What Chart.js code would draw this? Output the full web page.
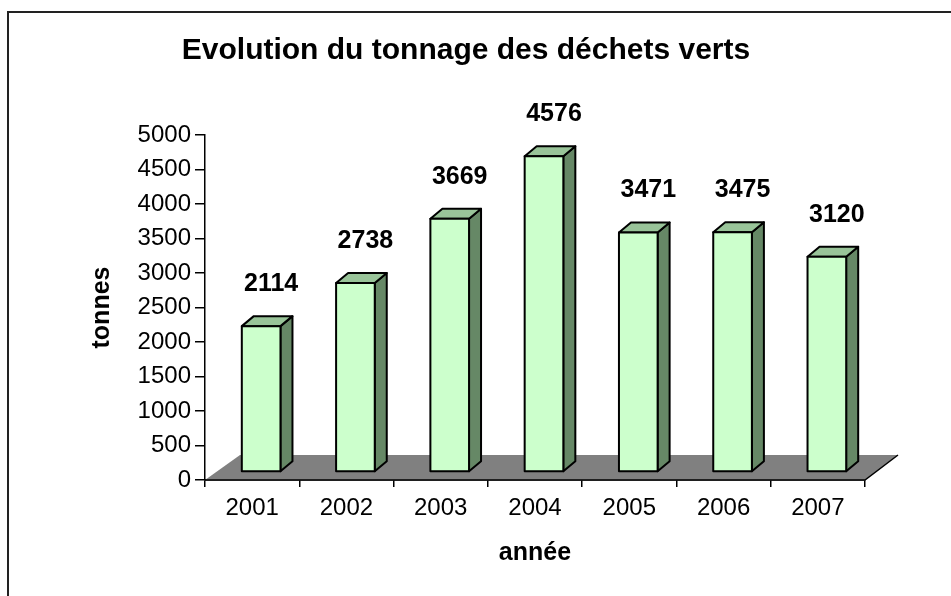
<!DOCTYPE html>
<html lang="fr">
<head>
<meta charset="utf-8">
<title>Evolution du tonnage des déchets verts</title>
<script src="https://cdn.jsdelivr.net/npm/chart.js@4.4.1/dist/chart.umd.min.js"></script>
<style>
  html, body { margin: 0; padding: 0; background: #fff; }
  canvas { display: block; }
</style>
</head>
<body>
<canvas id="chart" width="951" height="596"></canvas>
<script>
// data
const years = ["2001", "2002", "2003", "2004", "2005", "2006", "2007"];
const tonnes = [2114, 2738, 3669, 4576, 3471, 3475, 3120];
const yTicks = [0, 500, 1000, 1500, 2000, 2500, 3000, 3500, 4000, 4500, 5000];
const chartTitle = "Evolution du tonnage des déchets verts";

const FONT = "'Liberation Sans', Arial, sans-serif";

// 3d look: front face shifted from the axis, then the depth of the bar
const FRONT_DX = 9, FRONT_DY = -8;
const DEPTH_DX = 12, DEPTH_DY = -10;
const FLOOR_DX = 33, FLOOR_DY = -25;

const framePlugin = {
  id: "frame",
  beforeDraw(chart) {
    const ctx = chart.ctx;
    ctx.save();
    ctx.strokeStyle = "#222";
    ctx.lineWidth = 2;
    ctx.beginPath();
    ctx.moveTo(8, 600);
    ctx.lineTo(8, 12);
    ctx.lineTo(960, 12);
    ctx.stroke();
    // title, centred over the whole picture like the excel one
    ctx.fillStyle = "#000";
    ctx.font = "bold 30px " + FONT;
    ctx.textAlign = "center";
    ctx.textBaseline = "middle";
    ctx.fillText(chartTitle, 466, 51);
    ctx.restore();
  }
};

const bars3d = {
  id: "bars3d",
  beforeDatasetsDraw(chart) {
    const { ctx, chartArea } = chart;
    const l = chartArea.left, r = chartArea.right, b = chartArea.bottom;
    ctx.save();
    ctx.fillStyle = "#808080";
    ctx.beginPath();
    ctx.moveTo(l, b);
    ctx.lineTo(l + FLOOR_DX + 2, b + FLOOR_DY);
    ctx.lineTo(r + FLOOR_DX, b + FLOOR_DY);
    ctx.lineTo(r, b);
    ctx.closePath();
    ctx.fill();
    ctx.strokeStyle = "#000";
    ctx.lineWidth = 1.5;
    ctx.beginPath();
    ctx.moveTo(l, b);
    ctx.lineTo(r, b);
    ctx.lineTo(r + FLOOR_DX, b + FLOOR_DY);
    ctx.stroke();
    ctx.restore();
  },
  afterDatasetsDraw(chart) {
    const ctx = chart.ctx;
    const meta = chart.getDatasetMeta(0);
    ctx.save();
    ctx.lineWidth = 2;
    ctx.lineJoin = "round";
    ctx.strokeStyle = "#000";
    meta.data.forEach((el, i) => {
      const w = el.width;
      const left = el.x - w / 2 + FRONT_DX;
      const right = left + w;
      const top = el.y + FRONT_DY;
      const bottom = el.base + FRONT_DY;

      // side
      ctx.fillStyle = "#668866";
      ctx.beginPath();
      ctx.moveTo(right, bottom);
      ctx.lineTo(right + DEPTH_DX, bottom + DEPTH_DY);
      ctx.lineTo(right + DEPTH_DX, top + DEPTH_DY);
      ctx.lineTo(right, top);
      ctx.closePath();
      ctx.fill();
      ctx.stroke();

      // top
      ctx.fillStyle = "#99C499";
      ctx.beginPath();
      ctx.moveTo(left, top);
      ctx.lineTo(left + DEPTH_DX, top + DEPTH_DY);
      ctx.lineTo(right + DEPTH_DX, top + DEPTH_DY);
      ctx.lineTo(right, top);
      ctx.closePath();
      ctx.fill();
      ctx.stroke();

      // front
      ctx.fillStyle = "#CCFFCC";
      ctx.beginPath();
      ctx.rect(left, top, w, bottom - top);
      ctx.fill();
      ctx.stroke();

      // value label
      ctx.fillStyle = "#000";
      ctx.font = "bold 25px " + FONT;
      ctx.textAlign = "center";
      ctx.textBaseline = "middle";
      ctx.fillText(String(tonnes[i]), (left + right) / 2 + 10, top - 42);
    });
    ctx.restore();
  }
};

new Chart(document.getElementById("chart"), {
  type: "bar",
  data: {
    labels: years,
    datasets: [{
      data: tonnes,
      backgroundColor: "rgba(0,0,0,0)",
      borderWidth: 0,
      barPercentage: 0.41,
      categoryPercentage: 1
    }]
  },
  options: {
    responsive: false,
    animation: false,
    devicePixelRatio: 1,
    layout: { padding: { left: 0, right: 86, top: 135, bottom: 0 } },
    plugins: {
      legend: { display: false },
      tooltip: { enabled: false },
      title: { display: false }
    },
    scales: {
      x: {
        grid: { offset: true, drawOnChartArea: false, drawTicks: true, tickLength: 7, color: "#000", lineWidth: 1.5 },
        border: { display: true, color: "#000", width: 1.5 },
        ticks: { color: "#000", font: { family: FONT, size: 24 }, padding: 7, maxRotation: 0 },
        title: {
          display: true,
          text: "année",
          color: "#000",
          font: { family: FONT, size: 25, weight: "bold" },
          padding: { top: 0, bottom: 28 }
        },
        afterFit(scale) { scale.height = 116; }
      },
      y: {
        min: 0,
        max: 5000,
        afterBuildTicks(scale) { scale.ticks = yTicks.map(v => ({ value: v })); },
        grid: { drawOnChartArea: false, drawTicks: true, tickLength: 10, color: "#000", lineWidth: 1.5 },
        border: { display: true, color: "#000", width: 1.5 },
        ticks: {
          color: "#000",
          font: { family: FONT, size: 24 },
          padding: 4,
          callback: (v) => String(v)
        },
        title: {
          display: true,
          text: "tonnes",
          color: "#000",
          font: { family: FONT, size: 25, weight: "bold" },
          padding: { top: 87, bottom: 0 }
        },
        afterFit(scale) { scale.width = 205; }
      }
    }
  },
  plugins: [framePlugin, bars3d]
});
</script>
</body>
</html>
